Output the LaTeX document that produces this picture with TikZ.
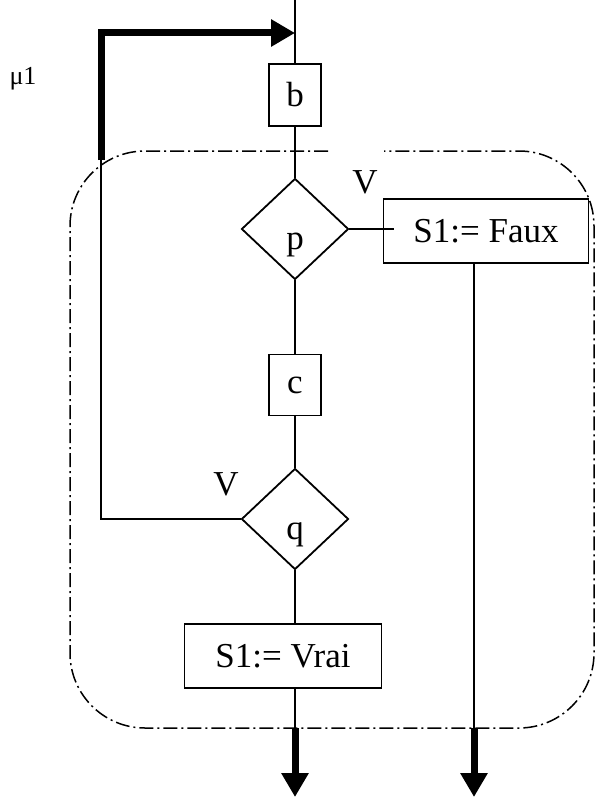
\documentclass[tikz,border=0pt]{standalone}
\usepackage{fontspec}
\setmainfont{Liberation Serif}
\usetikzlibrary{shapes.geometric,arrows.meta}
\begin{document}
\begin{tikzpicture}[x=1pt,y=-1pt,
  every node/.style={font=\fontsize{35}{40}\selectfont},
  box/.style={draw,line width=1.8pt,inner sep=0pt},
  dec/.style={draw,diamond,line width=1.8pt,minimum width=107pt,minimum height=101pt,inner sep=0pt},
  dectext/.style={label={[yshift=-16pt]center:#1}},
  flow/.style={line width=1.8pt},
  heavy/.style={line width=7pt,-{Triangle[length=24pt,width=26pt]}},
  frame/.style={line width=1.5pt,dash pattern=on 14pt off 4pt on 2pt off 4pt,rounded corners=75pt}]
\useasboundingbox (0,0) rectangle (606,800);

% blocks
\node[box,minimum width=52pt,minimum height=62pt] (b) at (295,95) {b};
\node[dec,dectext=p] (p) at (295,229) {};
\node[box,minimum width=205pt,minimum height=64pt] (faux) at (486,231) {S1:= Faux};
\node[box,minimum width=52pt,minimum height=61pt] (c) at (295,385) {c};
\node[dec,dectext=q] (q) at (295,519) {};
\node[box,minimum width=197pt,minimum height=64pt] (vrai) at (283,656) {S1:= Vrai};

% labels
\node (v1) at (365,182) {V};
\node (v2) at (226,484) {V};
\node[font=\fontsize{26}{30}\selectfont] (mu) at (23,79) {μ1};

% helper points
\coordinate (top) at (295,0);
\coordinate (entry) at (295,33);
\coordinate (lc) at (101,33);
\coordinate (lt) at (101,160);
\coordinate (lb) at (101,519);
\coordinate (o1) at (295,728);
\coordinate (o1e) at (295,797);
\coordinate (o2) at (474,728);
\coordinate (o2e) at (474,797);

% main flow
\draw[flow] (top) -- (b.north);
\draw[flow] (b.south) -- (p.north);
\draw[flow] (p.south) -- (c.north);
\draw[flow] (c.south) -- (q.north);
\draw[flow] (q.south) -- (q.south |- vrai.north);
\draw[flow] (o1 |- vrai.south) -- (o1);
\draw[heavy] (o1) -- (o1e);

% true branch of p
\draw[flow] (p.east) -- ([xshift=11pt]faux.west |- p.east);
\draw[flow] (o2 |- faux.south) -- (o2);
\draw[heavy] (o2) -- (o2e);

% loop back from q
\draw[flow] (q.west) -- (lb) -- (lt);
\draw[heavy] (lt) -- (lc) -- (entry);

% dash-dot frame
\draw[frame] (328,151) -- (70,151) -- (70,728) -- (594,728) -- (594,151) -- (384,151);
\end{tikzpicture}
\end{document}
